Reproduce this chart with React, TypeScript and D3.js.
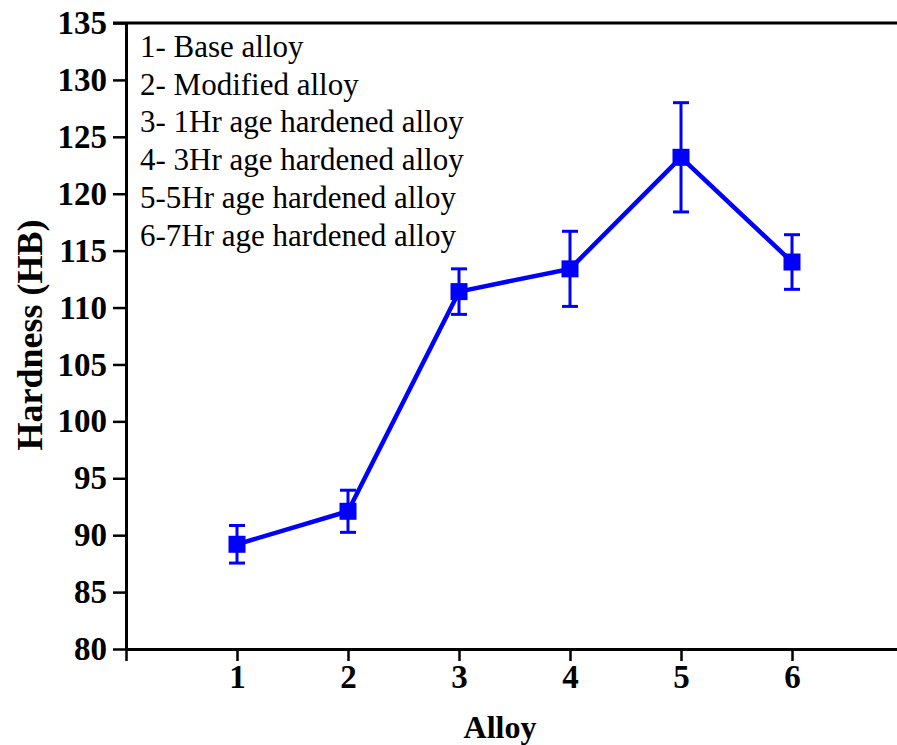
import React, { useEffect, useRef } from 'react';
import * as d3 from 'd3';

// alloy number, mean hardness and error (±)
const alloys = [1, 2, 3, 4, 5, 6];
const hardness = [89.2, 92.1, 111.4, 113.4, 123.2, 114.0];
const errors = [1.65, 1.85, 2.0, 3.3, 4.8, 2.4];
const yTicks = [80, 85, 90, 95, 100, 105, 110, 115, 120, 125, 130, 135];
const legendLines = [
  '1- Base alloy',
  '2- Modified alloy',
  '3- 1Hr age hardened alloy',
  '4- 3Hr age hardened alloy',
  '5-5Hr age hardened alloy',
  '6-7Hr age hardened alloy',
];

const W = 897;
const H = 745;
const BLUE = '#0000ff';
const FONT = '"Liberation Serif", "Times New Roman", serif';

export default function App() {
  const ref = useRef<SVGSVGElement>(null);

  useEffect(() => {
    const svg = d3.select(ref.current);
    svg.selectAll('*').remove();

    const x = d3.scaleLinear().domain([0, 7]).range([126, 903]);
    const y = d3.scaleLinear().domain([80, 135]).range([649, 23]);

    // top frame line
    svg
      .append('line')
      .attr('x1', 113)
      .attr('x2', W)
      .attr('y1', y(135))
      .attr('y2', y(135))
      .attr('stroke', 'black')
      .attr('stroke-width', 3);

    // left axis
    const yAxis = svg
      .append('g')
      .attr('transform', `translate(${x(0)},0)`)
      .call(d3.axisLeft(y).tickValues(yTicks).tickSize(13).tickPadding(6).tickSizeOuter(0));

    // bottom axis
    const xAxis = svg
      .append('g')
      .attr('transform', `translate(0,${y(80)})`)
      .call(
        d3
          .axisBottom(x)
          .tickValues([0, ...alloys])
          .tickSize(12)
          .tickPadding(4)
          .tickSizeOuter(0)
          .tickFormat(d => (d === 0 ? '' : String(d)))
      );

    [yAxis, xAxis].forEach(g => {
      g.select('.domain').attr('stroke-width', 3);
      g.selectAll('.tick line').attr('stroke-width', 2.5);
      g.selectAll('.tick text')
        .attr('font-family', FONT)
        .attr('font-weight', 'bold')
        .attr('font-size', 33)
        .attr('fill', 'black');
    });
    xAxis.selectAll('.tick text').attr('dy', '0.71em');

    // legend text
    svg
      .append('g')
      .selectAll('text')
      .data(legendLines)
      .enter()
      .append('text')
      .attr('x', 140)
      .attr('y', (d, i) => 57 + i * 37.7)
      .attr('font-family', FONT)
      .attr('font-size', 31)
      .attr('fill', 'black')
      .text(d => d);

    // axis titles
    svg
      .append('text')
      .attr('transform', `translate(42,${335}) rotate(-90)`)
      .attr('text-anchor', 'middle')
      .attr('font-family', FONT)
      .attr('font-weight', 'bold')
      .attr('font-size', 36)
      .text('Hardness (HB)');

    svg
      .append('text')
      .attr('x', 500)
      .attr('y', 738)
      .attr('text-anchor', 'middle')
      .attr('font-family', FONT)
      .attr('font-weight', 'bold')
      .attr('font-size', 32)
      .text('Alloy');

    const data = alloys.map((a, i) => ({ a, v: hardness[i], e: errors[i] }));

    // error bars
    const eb = svg.append('g').selectAll('g').data(data).enter().append('g');
    eb.append('line')
      .attr('x1', d => x(d.a))
      .attr('x2', d => x(d.a))
      .attr('y1', d => y(d.v + d.e))
      .attr('y2', d => y(d.v - d.e))
      .attr('stroke', BLUE)
      .attr('stroke-width', 3);
    [1, -1].forEach(s => {
      eb.append('line')
        .attr('x1', d => x(d.a) - 8)
        .attr('x2', d => x(d.a) + 8)
        .attr('y1', d => y(d.v + s * d.e))
        .attr('y2', d => y(d.v + s * d.e))
        .attr('stroke', BLUE)
        .attr('stroke-width', 3);
    });

    // line
    const line = d3
      .line<{ a: number; v: number }>()
      .x(d => x(d.a))
      .y(d => y(d.v));
    svg
      .append('path')
      .datum(data)
      .attr('d', line)
      .attr('fill', 'none')
      .attr('stroke', BLUE)
      .attr('stroke-width', 4.5);

    // square markers
    svg
      .append('g')
      .selectAll('rect')
      .data(data)
      .enter()
      .append('rect')
      .attr('x', d => x(d.a) - 8.5)
      .attr('y', d => y(d.v) - 8.5)
      .attr('width', 17)
      .attr('height', 17)
      .attr('fill', BLUE);
  }, []);

  return (
    <svg
      ref={ref}
      width={W}
      height={H}
      style={{ position: 'absolute', left: 0, top: 0, background: 'white' }}
    />
  );
}
